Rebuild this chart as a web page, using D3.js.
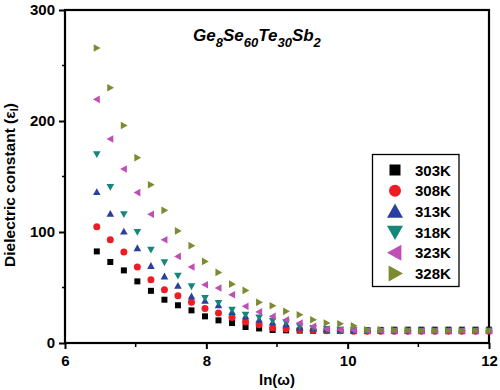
<!DOCTYPE html>
<html><head><meta charset="utf-8">
<script src="https://cdn.jsdelivr.net/npm/d3@7"></script>
<style>body{margin:0;background:#fff}svg{display:block}text{font-family:Arial,"Liberation Sans",sans-serif;font-weight:bold}</style>
</head><body><svg id="c" width="500" height="390"></svg>
<script>
const xStart = 6.45, xEnd = 12.0, nPts = 30;
const lnOmega = d3.range(nPts).map(i => +(xStart + i*(xEnd-xStart)/(nPts-1)).toFixed(3));
const seriesNames = ["303K","308K","313K","318K","323K","328K"];
const s303 = [82.5,73,65.4,55.5,47,39,34,29.4,24,20.4,18,14.4,13.1,11.7,11.4,11.2,11,11,11,11.2,11.5,11.8,12,12,12,12,12,12,12,12];
const s308 = [104.8,93,82,68.5,57,48,42.6,36.6,31,27,23,19,16.5,13.5,12.6,12,11.5,11,11,10.5,10.5,10.5,10.5,10.5,10.5,10.5,10.5,10.5,10.5,10.5];
const s313 = [136,116.5,100.5,85.5,69.5,60,51.6,42,38,34,28,24,21,18.5,17,14,13,12,11.5,11,11,11,11,11,11,11,11,11,11,11];
const s318 = [170,140.5,116,100,84,72.6,60.6,51,40.5,36,30,25.5,23,20,18.5,15,13.5,12.5,12,11.5,11,11,11,11,11,11,11,11,11,11];
const s323 = [219.5,183.8,156.8,135.5,116,93,78,68.5,52.5,49.5,43.5,33,28,24,21,18,15,12.6,12,11.5,11,11,11,11,11,11,11,11,11,11];
const s328 = [265.8,230,196,167,142.6,119.5,101,87.7,73.5,63.6,53,47.4,36.6,33.6,28.5,25.5,21,18,17.4,15.6,12,12,11.5,11.5,11,11,11,11,11,11];
const seriesValues = [s303,s308,s313,s318,s323,s328];
const colors = ["#000000","#ee1c24","#2b3f9f","#15867a","#c04fb5","#7c8a30"];
const shapes = ["square","circle","up","down","left","right"];
const xTicks = [6,8,10,12], yTicks = [0,100,200,300];

const svg = d3.select("#c");
const L=65, R=489, T=10, B=343;
const x = d3.scaleLinear().domain([6,12]).range([L,R]);
const y = d3.scaleLinear().domain([0,300]).range([B,T]);

function shapePath(kind, r){
  const k=0.8;
  switch(kind){
    case "square": return `M${-r},${-r}H${r}V${r}H${-r}Z`;
    case "circle": { const p=d3.path(); p.arc(0,0,r,0,2*Math.PI); return p.toString(); }
    case "up": return `M0,${-r}L${r},${r*k}L${-r},${r*k}Z`;
    case "down": return `M0,${r}L${r},${-r*k}L${-r},${-r*k}Z`;
    case "left": return `M${-r},0L${r*k},${-r}L${r*k},${r}Z`;
    case "right": return `M${r},0L${-r*k},${-r}L${-r*k},${r}Z`;
  }
}
const plotR = {square:3,circle:3.5,up:3.8,down:3.8,left:3.8,right:3.8};
const legR = {square:5.5,circle:6,up:8,down:8,left:8,right:8};

// minor ticks
const g = svg.append("g");
d3.range(50,300,100).forEach(v=>g.append("line").attr("x1",L-3).attr("x2",L).attr("y1",y(v)).attr("y2",y(v)).attr("stroke","#000").attr("stroke-width",1.5));
[7,9,11].forEach(v=>g.append("line").attr("x1",x(v)).attr("x2",x(v)).attr("y1",B).attr("y2",B+4).attr("stroke","#000").attr("stroke-width",1.5));

const xAxis = svg.append("g").attr("transform",`translate(0,${B})`)
  .call(d3.axisBottom(x).tickValues(xTicks).tickFormat(d3.format("d")).tickSize(6).tickPadding(6));
const yAxis = svg.append("g").attr("transform",`translate(${L},0)`)
  .call(d3.axisLeft(y).tickValues(yTicks).tickFormat(d3.format("d")).tickSize(6).tickPadding(4));
[xAxis,yAxis].forEach(a=>{
  a.select(".domain").remove();
  a.selectAll("line").attr("stroke","#000").attr("stroke-width",2);
  a.selectAll("text").attr("font-size",15).attr("font-weight","bold").attr("fill","#000").attr("font-family","Arial, 'Liberation Sans', sans-serif");
});
svg.append("rect").attr("x",L).attr("y",T).attr("width",R-L).attr("height",B-T)
  .attr("fill","none").attr("stroke","#000").attr("stroke-width",2.2);

// points
seriesValues.forEach((vals,si)=>{
  svg.append("g").selectAll("path").data(vals).join("path")
    .attr("transform",(d,i)=>`translate(${x(lnOmega[i])},${y(d)})`)
    .attr("d",shapePath(shapes[si],plotR[shapes[si]]))
    .attr("fill",colors[si]);
});

// legend
const lg = svg.append("g");
lg.append("rect").attr("x",372.5).attr("y",154.5).attr("width",86.5).attr("height",132)
  .attr("fill","#fff").attr("stroke","#000").attr("stroke-width",1.3);
seriesNames.forEach((n,i)=>{
  const yy = 170 + i*20.7;
  lg.append("path").attr("transform",`translate(395,${yy})`).attr("d",shapePath(shapes[i],legR[shapes[i]])).attr("fill",colors[i]);
  lg.append("text").attr("x",415).attr("y",yy+5.5).attr("font-size",15).text(n);
});

// title
const t = svg.append("text").attr("x",193).attr("y",41).attr("font-size",17).attr("font-style","italic");
[["Ge",0],["8",1],["Se",0],["60",1],["Te",0],["30",1],["Sb",0],["2",1]].forEach(([s,sub],i)=>{
  const ts=t.append("tspan").text(s);
  if(sub) ts.attr("font-size",13).attr("dy",6);
  else if(i>0) ts.attr("dy",-6);
});

// axis labels
svg.append("text").attr("x",277).attr("y",385).attr("text-anchor","middle").attr("font-size",15)
  .text("ln(ω)");
const yl = svg.append("text").attr("transform","translate(15,185) rotate(-90)").attr("text-anchor","middle").attr("font-size",15.5);
yl.append("tspan").text("Dielectric constant (ε");
yl.append("tspan").attr("font-size",11).attr("dy",3).text("I");
yl.append("tspan").attr("dy",-3).text(")");
</script></body></html>
